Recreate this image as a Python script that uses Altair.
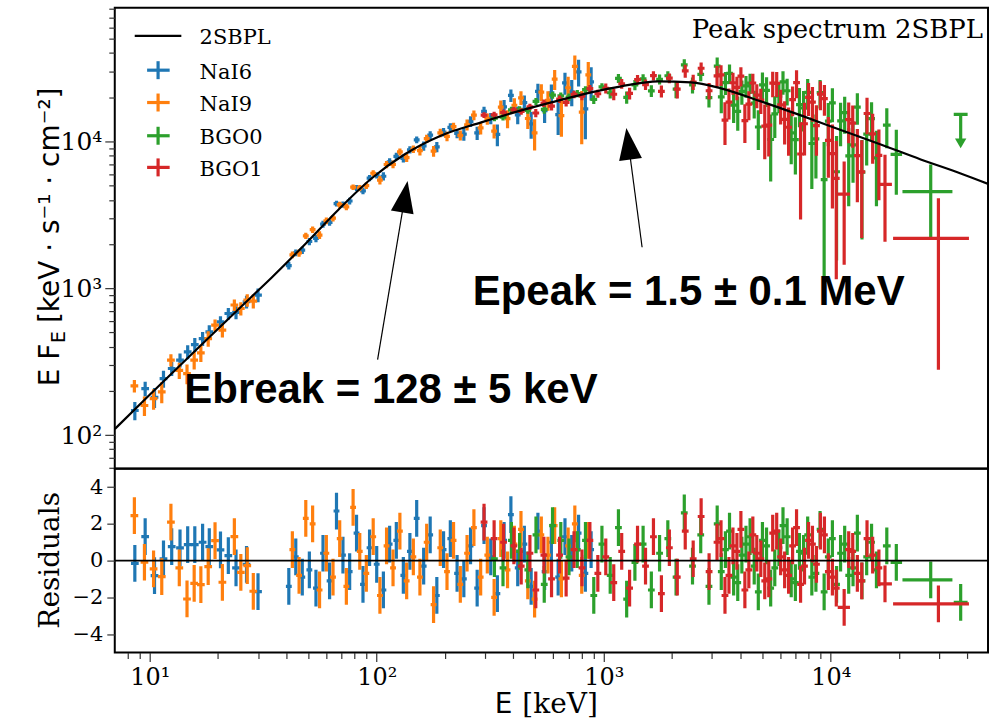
import json
import altair as alt
import pandas as pd

# ---------------- model curve (2SBPL) ----------------
MODEL_E = [7.02, 10, 16.9, 28.1, 34.4, 48.1, 67.8, 94.8, 132.4, 192.6, 288.8, 403.5, 587, 880,
           1193, 1735, 2424, 3285, 4927, 7386, 10320, 16610, 24910, 37360, 50120]
MODEL_F = [110, 188, 412, 875, 1180, 1980, 3430, 5590, 8150, 10990, 13490, 15780, 18460, 21600,
           23740, 25680, 25270, 23000, 18750, 15050, 12460, 9540, 7540, 6050, 5090]

# ---------------- NaI6 ----------------
NAI6_LOW_E = [8.6, 9.55, 10.5, 11.5, 12.5, 13.6, 14.7, 15.8, 17.1, 18.3, 20.5, 22.2, 24.0, 26.7, 30.0]
NAI6_LOW_F = [147, 207, 181, 242, 284, 324, 369, 413, 454, 504, 590, 673, 684, 809, 899]
NAI6_LOW_DF = [21, 24, 28, 32, 31, 36, 40, 45, 50, 56, 55, 62, 69, 81, 96]
NAI6_LOW_R = [-0.15, 1.31, -0.82, 0.09, 0.76, 0.69, 0.87, 0.87, 1.0, 0.76, 0.58, 0.27, -0.4, -0.2, -1.69]

NAI6_HI_E = [41, 44, 47, 50.5, 54, 58, 62, 66.5, 71, 76, 81.5, 87, 93, 100, 107, 114, 122, 131, 140,
             150, 161, 172, 184, 197, 211, 226, 242, 259, 277, 297, 318, 340, 364, 390, 418, 447, 479,
             513, 549, 588, 630, 675, 723, 775, 830, 880]
NAI6_HI_F = [1428, 1744, 1816, 2081, 2186, 2730, 2809, 3773, 3723, 3929, 4821, 4612, 5627, 5879, 5794,
             7256, 7922, 7667, 8777, 10245, 9325, 11025, 9185, 11583, 12476, 11333, 11225, 13686, 11426,
             16005, 14367, 11155, 17186, 20579, 15182, 18397, 13155, 21912, 16224, 21425, 15216, 25063,
             21775, 29813, 16682, 25488]
NAI6_HI_DF = [85, 95, 105, 118, 131, 147, 149, 166, 183, 203, 224, 247, 272, 297, 385, 413, 446, 483,
              511, 540, 667, 703, 742, 778, 806, 834, 1110, 1149, 1189, 1230, 1270, 1893, 1955, 2019,
              2082, 2141, 2712, 2791, 2872, 2955, 4174, 4288, 4403, 6168, 6335, 6480]
NAI6_HI_R = [-1.4, 0.2, -0.9, -0.5, -1.5, 0.4, -1.1, 2.7, 0.3, -0.6, 1.5, -1.3, 0.7, -0.2, -1.6, 0.9,
             1.1, -0.8, 0.5, 2.3, -0.3, 1.4, -1.9, 0.6, 1.2, -0.7, -1.0, 0.8, -1.5, 1.9, 0.2, -1.8, 1.1,
             2.5, -0.4, 0.9, -1.4, 1.6, -0.6, 1.0, -0.9, 1.3, 0.4, 1.5, -0.7, 0.6]

# ---------------- NaI9 ----------------
NAI9_LOW_E = [8.56, 9.48, 10.4, 11.3, 12.4, 13.5, 14.6, 15.7, 16.8, 18.1, 19.4, 20.9, 23.6, 25.2, 26.9, 28.6]
NAI9_LOW_F = [216, 159, 177, 197, 324, 276, 262, 324, 363, 454, 561, 519, 769, 728, 830, 817]
NAI9_LOW_DF = [21, 24, 28, 32, 31, 35, 40, 44, 49, 55, 51, 57, 68, 75, 82, 90]
NAI9_LOW_R = [2.45, -0.09, -0.45, -0.87, 2.09, -0.4, -2.09, -1.24, -1.31, -0.33, 1.09, -1.18, 1.31,
              -0.64, -0.27, -1.67]

NAI9_HI_E = [42.5, 45.5, 48.7, 52.2, 56, 60, 64.2, 68.7, 73.5, 78.7, 84.2, 90, 96.5, 103.3, 110.5, 118,
             126.5, 135.5, 145, 155, 166, 178, 190.5, 204, 218, 233.5, 250, 268, 287, 307, 329, 352,
             377, 404, 432, 463, 496, 531, 568, 608, 651, 697, 746, 800, 855]
NAI9_HI_F = [1689, 1738, 2276, 2505, 2304, 2882, 3002, 3707, 3588, 4880, 4821, 5002, 6074, 5457, 6965,
             6985, 8485, 7754, 8868, 8659, 10444, 8585, 11426, 10839, 12602, 11012, 12992, 15094, 12358,
             14258, 11759, 17110, 14291, 17637, 19824, 14324, 11422, 21664, 19079, 26535, 14989, 23206,
             32416, 15821, 28409]
NAI9_HI_DF = [90, 100, 111, 124, 139, 155, 157, 175, 193, 213, 235, 259, 285, 370, 399, 429, 465, 498,
              526, 647, 683, 722, 762, 792, 819, 848, 1129, 1169, 1210, 1249, 1291, 1924, 1987, 2053,
              2111, 2173, 2752, 2832, 2913, 4117, 4228, 4341, 6078, 6245, 6408]
NAI9_HI_R = [0.6, -0.8, 2.3, 2.0, -1.6, 0.4, -0.9, 1.2, -1.4, 2.9, 0.5, -0.7, 1.3, -1.9, 0.8, -0.4, 1.6,
             -1.1, 0.2, -0.9, 1.0, -2.4, 0.7, -0.6, 1.1, -1.3, 0.4, 1.8, -0.9, 0.3, -2.0, 1.2, -0.5, 0.9,
             1.7, -1.1, -2.1, 1.4, 0.3, 1.9, -1.0, 0.8, 2.0, -0.8, 1.1]

# ---------------- BGO0 ----------------
BGO0_E = [330, 360, 392, 426, 463, 503, 547, 595, 647, 703, 765, 831, 904, 982, 1068, 1161, 1262, 1372,
          1491, 1621, 1762, 1916, 2083, 2264, 2461, 2675, 2908, 3161, 3436, 3735, 4060, 4413, 4797,
          5215, 5669, 6162, 6698, 7281, 7915, 8604, 9353, 10170, 11050, 12000, 13100, 14400, 15900,
          3295, 3582, 3894, 4233, 4602, 5003, 5438, 5912, 6426, 6986, 7594, 8255, 8974, 9756, 10610,
          11520, 12540, 13730, 15130]
BGO0_F = [14434, 14660, 16425, 16547, 16296, 18756, 16522, 20671, 20436, 20036, 21196, 22520, 19297,
          23554, 21467, 26927, 19986, 24251, 26669, 22078, 26481, 28010, 22706, 33264, 24246, 28629,
          19870, 32582, 25184, 17678, 21912, 24973, 12539, 22252, 15428, 25439, 11426, 17822, 21566,
          10425, 5500, 18296, 13815, 7968, 17116, 11206, 7725,
          20134, 29053, 16044, 23883, 18236, 24316, 10307, 20320, 22138, 10299, 16895, 9686, 21517,
          13771, 6214, 15728, 9472, 6181, 14285]
BGO0_DF = [718, 748, 778, 807, 836, 1038, 1075, 1113, 1150, 1188, 1228, 1268, 1307, 1341, 1835, 1883,
           1922, 1956, 1990, 2026, 2053, 2045, 3055, 3042, 3018, 2941, 2866, 4655, 4497, 4312, 4134,
           3964, 3800, 5090, 4865, 4649, 4444, 5309, 5066, 4833, 4400, 4775, 4557, 4351, 4143, 4342, 4107,
           4576, 4402, 4222, 4048, 3880, 5205, 4976, 4757, 4544, 4343, 5187, 4949, 4722, 4505, 4666,
           4454, 4245, 4036, 4225]
BGO0_R = [0.1, -0.4, 1.1, 0.5, -0.5, 1.4, -1.3, 1.9, 1.1, 0.2, 0.6, 1.1, -1.9, 0.9, -0.8, 1.8, -2.1,
          -0.1, 0.9, -1.6, 0.4, 1.2, -0.9, 2.6, -0.3, 1.4, -1.4, 2.0, 0.6, -0.9, 0.3, 1.3, -1.7, 0.8,
          -0.4, 1.9, -1.0, 0.5, 1.4, -0.7, -1.7, 1.2, 0.4, -0.8, 1.5, 0.2, -0.5,
          -0.6, 1.6, -1.2, 0.9, -0.3, 1.1, -1.5, 0.7, 1.3, -1.2, 0.4, -0.9, 1.7, 0.2, -1.3, 0.9, -0.4,
          -1.1, 1.0]
BGO0_WIDE_E = [17660, 19450, 27570]
BGO0_WIDE_LO = [16980, 18350, 20700]
BGO0_WIDE_HI = [18370, 20620, 34360]
BGO0_WIDE_F = [12900, 8175, 4556]
BGO0_WIDE_DF = [3900, 3845, 2400]
BGO0_WIDE_R = [0.8, -0.1, -1.05]
BGO0_UL_E = [37360]
BGO0_UL_LO = [34820]
BGO0_UL_HI = [40090]
BGO0_UL_F = [15290]
BGO0_UL_STEM = [10400]
BGO0_UL_HEAD = [9700]
BGO0_UL_R = [-2.27]

# ---------------- BGO1 ----------------
BGO1_E = [297, 329, 362, 402, 433, 473, 502, 545, 589, 639, 683, 740, 802, 869, 942, 1021, 1107, 1200,
          1300, 1409, 1528, 1656, 1795, 1946, 2109, 2286, 2478, 2686, 2912, 3156, 3421, 3709, 4020,
          4358, 4724, 5121, 5551, 6017, 6522, 7070, 7664, 8308, 9006, 9762, 10580, 12500, 13700, 15300,
          3286, 3562, 3862, 4186, 4538, 4920, 5333, 5781, 6266, 6792, 7364, 7983, 8652, 9380, 10170,
          12000, 13100, 14450, 16300]
BGO1_F = [15103, 15200, 15748, 16383, 16009, 17201, 15628, 18215, 17381, 19422, 18461, 20922, 20336,
          22914, 21133, 22982, 20966, 24721, 21271, 26353, 24407, 28078, 21948, 26969, 22692, 30209,
          25400, 31529, 22153, 27942, 13971, 25097, 27837, 17953, 20684, 12706, 24954, 17764, 12494,
          25118, 13192, 18522, 20994, 10158, 5600, 13316, 6200, 11250,
          28396, 18547, 23320, 13845, 25011, 19125, 12931, 24891, 14156, 19278, 8213, 19958, 12806,
          19594, 8271, 14061, 8001, 15506, 8029]
BGO1_DF = [683, 717, 750, 788, 813, 843, 1037, 1074, 1109, 1145, 1175, 1212, 1250, 1290, 1324, 1810,
           1855, 1902, 1934, 1967, 2001, 2035, 2051, 2043, 3053, 3041, 3012, 2937, 2865, 4657, 4507,
           4327, 4155, 3990, 3830, 5141, 4920, 4710, 4508, 5394, 5159, 4930, 4710, 4500, 4450, 4252,
           4000, 4196,
           4580, 4416, 4240, 4072, 3908, 3750, 5029, 4813, 4609, 4410, 5275, 5044, 4820, 4603, 4777,
           4351, 4142, 4330, 4053]
BGO1_R = [2.1, 1.2, 1.0, 0.8, -0.3, 0.4, -1.6, 0.3, -1.0, 0.3, -0.95, 0.6, -0.4, 1.1, -0.7, 0.2, -1.2,
          0.5, -1.5, 0.9, -0.3, 1.3, -1.8, 0.7, -0.9, 1.6, 0.1, 2.4, -0.6, 1.0, -1.9, 0.8, 1.7, -0.5,
          0.4, -1.1, 1.5, 0.2, -0.8, 1.8, -0.3, 0.9, 1.6, -0.6, -1.5, 0.5, -1.1, 0.3,
          1.2, -0.8, 0.5, -1.6, 1.4, 0.1, -1.0, 1.6, -0.5, 0.8, -1.3, 1.1, -0.2, 1.4, -0.9, 0.6, -0.7,
          1.2, -0.4]
BGO1_WIDE_E = [11460, 17340, 29810]
BGO1_WIDE_LO = [10733, 16400, 18820]
BGO1_WIDE_HI = [12155, 18600, 40630]
BGO1_WIDE_F = [4376, 5094, 2188]
BGO1_WIDE_DF = [2930, 3020, 1910]
BGO1_WIDE_R = [-2.55, -1.27, -2.36]

# channel half-width factors
W_NAI_LOW = 1.04
W_NAI_HI = 1.03
W_BGO = 1.035

# ---------------- axes ticks ----------------
X_TICKS = [7, 8, 9, 10, 20, 30, 40, 50, 60, 70, 80, 90, 100, 200, 300, 400, 500, 600, 700, 800, 900,
           1000, 2000, 3000, 4000, 5000, 6000, 7000, 8000, 9000, 10000, 20000, 30000, 40000]
X_MAJOR = [10, 100, 1000, 10000]
X_LABELS = ["10¹", "10²", "10³", "10⁴"]
Y_TICKS = [60, 70, 80, 90, 100, 200, 300, 400, 500, 600, 700, 800, 900, 1000, 2000, 3000, 4000, 5000,
           6000, 7000, 8000, 9000, 10000, 20000, 30000, 40000, 50000, 60000, 70000, 80000]
Y_MAJOR = [100, 1000, 10000]
Y_LABELS = ["10²", "10³", "10⁴"]
R_TICKS = [-4, -2, 0, 2, 4]

# ---------------- style ----------------
C_NAI6 = "#1f77b4"
C_NAI9 = "#ff7f0e"
C_BGO0 = "#2ca02c"
C_BGO1 = "#d62728"
SW = 3.2
W, H_TOP, H_BOT = 875, 461.6, 184
SERIF = "DejaVu Serif"
SANS = "DejaVu Sans"

XS = alt.Scale(type="log", domain=[7.016, 49300], nice=False)
YS = alt.Scale(type="log", domain=[59.3, 81450], nice=False)
RS = alt.Scale(domain=[-5, 5], nice=False, zero=False)


def rows(E, F, DF, R, w=None, lo=None, hi=None):
    out = []
    for i in range(len(E)):
        elo = lo[i] if lo is not None else E[i] / w
        ehi = hi[i] if hi is not None else E[i] * w
        out.append(dict(E=E[i], Elo=elo, Ehi=ehi, F=F[i], Flo=max(F[i] - DF[i], 1.0),
                        Fhi=F[i] + DF[i], R=R[i], Rlo=R[i] - 1, Rhi=R[i] + 1))
    return out


def sort_e(rs):
    return sorted(rs, key=lambda r: r["E"])


df_nai6 = pd.DataFrame(rows(NAI6_LOW_E, NAI6_LOW_F, NAI6_LOW_DF, NAI6_LOW_R, W_NAI_LOW)
                       + rows(NAI6_HI_E, NAI6_HI_F, NAI6_HI_DF, NAI6_HI_R, W_NAI_HI))
df_nai9 = pd.DataFrame(rows(NAI9_LOW_E, NAI9_LOW_F, NAI9_LOW_DF, NAI9_LOW_R, W_NAI_LOW)
                       + rows(NAI9_HI_E, NAI9_HI_F, NAI9_HI_DF, NAI9_HI_R, W_NAI_HI))
df_bgo0 = pd.DataFrame(sort_e(rows(BGO0_E, BGO0_F, BGO0_DF, BGO0_R, W_BGO))
                       + rows(BGO0_WIDE_E, BGO0_WIDE_F, BGO0_WIDE_DF, BGO0_WIDE_R,
                              lo=BGO0_WIDE_LO, hi=BGO0_WIDE_HI))
df_bgo1 = pd.DataFrame(sort_e(rows(BGO1_E, BGO1_F, BGO1_DF, BGO1_R, W_BGO))
                       + rows(BGO1_WIDE_E, BGO1_WIDE_F, BGO1_WIDE_DF, BGO1_WIDE_R,
                              lo=BGO1_WIDE_LO, hi=BGO1_WIDE_HI))
df_ul = pd.DataFrame(dict(E=BGO0_UL_E, Elo=BGO0_UL_LO, Ehi=BGO0_UL_HI, F=BGO0_UL_F,
                          S=BGO0_UL_STEM, A=BGO0_UL_HEAD, R=BGO0_UL_R,
                          Rlo=[r - 1 for r in BGO0_UL_R], Rhi=[r + 1 for r in BGO0_UL_R]))
df_model = pd.DataFrame(dict(E=MODEL_E, F=MODEL_F))
DUMMY = pd.DataFrame({"k": [0]})


def is_major(major):
    return f"indexof({json.dumps(major)}, datum.value) >= 0"


def lab_expr(major, labels):
    m = json.dumps(major)
    l = json.dumps(labels, ensure_ascii=False)
    return f"indexof({m}, datum.value) >= 0 ? {l}[indexof({m}, datum.value)] : ''"


def cond(major, big, small):
    return {"condition": {"test": is_major(major), "value": big}, "value": small}


Y_AXIS = alt.Axis(values=Y_TICKS, labelExpr=lab_expr(Y_MAJOR, Y_LABELS),
                  tickSize=cond(Y_MAJOR, 10, 6), tickColor="#333", tickWidth=1.2,
                  labelFont=SERIF, labelFontSize=cond(Y_MAJOR, 25, 0), labelColor="black",
                  labelPadding=3, domain=False, grid=False, title=None, labelOverlap=False)
X_AXIS = alt.Axis(values=X_TICKS, labelExpr=lab_expr(X_MAJOR, X_LABELS),
                  tickSize=cond(X_MAJOR, 9, 6), tickColor="#333", tickWidth=1.2,
                  labelFont=SERIF, labelFontSize=cond(X_MAJOR, 24, 0), labelColor="black",
                  labelPadding=4, domain=False, grid=False, title=None, labelOverlap=False)
R_AXIS = alt.Axis(values=R_TICKS, tickSize=8, tickColor="#333", tickWidth=1.2,
                  labelFont=SERIF, labelFontSize=21, labelColor="black", labelPadding=4,
                  domain=False, grid=False, title=None, labelOverlap=False)


def tx(field):
    return alt.X(field, scale=XS, axis=None)


def ty(field):
    return alt.Y(field, scale=YS, axis=Y_AXIS)


def bx(field):
    return alt.X(field, scale=XS, axis=X_AXIS)


def by(field):
    return alt.Y(field, scale=RS, axis=R_AXIS)


def top_err(df, color):
    v = alt.Chart(df).mark_rule(color=color, strokeWidth=SW, clip=True).encode(
        x=tx("E:Q"), y=ty("Flo:Q"), y2="Fhi:Q")
    h = alt.Chart(df).mark_rule(color=color, strokeWidth=SW, clip=True).encode(
        x=tx("Elo:Q"), x2="Ehi:Q", y=ty("F:Q"))
    return [v, h]


def res_err(df, color):
    v = alt.Chart(df).mark_rule(color=color, strokeWidth=SW, clip=True).encode(
        x=bx("E:Q"), y=by("Rlo:Q"), y2="Rhi:Q")
    h = alt.Chart(df).mark_rule(color=color, strokeWidth=SW, clip=True).encode(
        x=bx("Elo:Q"), x2="Ehi:Q", y=by("R:Q"))
    return [v, h]


def vtext(txt, x, y, font, size, **kw):
    return alt.Chart(DUMMY).mark_text(text=txt, font=font, fontSize=size, color="black", **kw).encode(
        x=alt.value(x), y=alt.value(y))


# ---------------- top panel ----------------
top_layers = []
top_layers += top_err(df_nai6, C_NAI6)
top_layers += top_err(df_nai9, C_NAI9)
top_layers += top_err(df_bgo0, C_BGO0)
# upper limit (BGO0)
top_layers.append(alt.Chart(df_ul).mark_rule(color=C_BGO0, strokeWidth=SW, clip=True).encode(
    x=tx("Elo:Q"), x2="Ehi:Q", y=ty("F:Q")))
top_layers.append(alt.Chart(df_ul).mark_rule(color=C_BGO0, strokeWidth=SW, clip=True).encode(
    x=tx("E:Q"), y=ty("F:Q"), y2="S:Q"))
top_layers.append(alt.Chart(df_ul).mark_point(shape="triangle-down", filled=True, color=C_BGO0,
                                              size=130, opacity=1).encode(x=tx("E:Q"), y=ty("A:Q")))
top_layers += top_err(df_bgo1, C_BGO1)
top_layers.append(alt.Chart(df_model).mark_line(color="black", strokeWidth=2.2, clip=True,
                                                interpolate="monotone").encode(x=tx("E:Q"), y=ty("F:Q")))

# annotation arrows (data coordinates)
ARROW_TAIL_E = [100.9, 1476]
ARROW_TAIL_F = [326.6, 1903]
ARROW_HEAD_E = [133.1, 1285]
ARROW_HEAD_F = [4208, 9647]
ARROW_ANGLE = [9.6, 352.5]
TRI = "M0,-1L0.72,1L-0.72,1Z"
df_arrow = pd.DataFrame(dict(E1=ARROW_TAIL_E, F1=ARROW_TAIL_F, E2=ARROW_HEAD_E, F2=ARROW_HEAD_F))
top_layers.append(alt.Chart(df_arrow).mark_rule(color="black", strokeWidth=1.2).encode(
    x=tx("E1:Q"), y=ty("F1:Q"), x2="E2:Q", y2="F2:Q"))
for i in range(2):
    top_layers.append(alt.Chart(pd.DataFrame(dict(E=[ARROW_HEAD_E[i]], F=[ARROW_HEAD_F[i]]))).mark_point(
        shape=TRI, filled=True, color="black", size=1024, opacity=1, angle=ARROW_ANGLE[i]).encode(
        x=tx("E:Q"), y=ty("F:Q")))

ANNOT_TEXT = ["Ebreak = 128 ± 5 keV", "Epeak = 1.5 ± 0.1 MeV"]
ANNOT_E = [14.21, 265]
ANNOT_F = [164.8, 764]
for i in range(2):
    top_layers.append(alt.Chart(pd.DataFrame(dict(E=[ANNOT_E[i]], F=[ANNOT_F[i]]))).mark_text(
        text=ANNOT_TEXT[i], font="Liberation Sans", fontWeight="bold", fontSize=42, color="black",
        align="left", baseline="alphabetic").encode(x=tx("E:Q"), y=ty("F:Q")))

top_layers.append(vtext("Peak spectrum 2SBPL", 870, 30.6, SERIF, 26, align="right", baseline="alphabetic"))

# legend
LEG_LABELS = ["2SBPL", "NaI6", "NaI9", "BGO0", "BGO1"]
LEG_COLORS = ["black", C_NAI6, C_NAI9, C_BGO0, C_BGO1]
LEG_Y = [28.3, 62.6, 95.0, 128.3, 160.0]
top_layers.append(alt.Chart(DUMMY).mark_rule(color="black", strokeWidth=2.2).encode(
    x=alt.value(20), x2=alt.value(66.7), y=alt.value(LEG_Y[0])))
for i in range(1, 5):
    cy = LEG_Y[i]
    top_layers.append(alt.Chart(DUMMY).mark_rule(color=LEG_COLORS[i], strokeWidth=SW).encode(
        x=alt.value(32.4), x2=alt.value(55), y=alt.value(cy)))
    top_layers.append(alt.Chart(DUMMY).mark_rule(color=LEG_COLORS[i], strokeWidth=SW).encode(
        x=alt.value(43.4), y=alt.value(cy - 9), y2=alt.value(cy + 9)))
for i in range(5):
    top_layers.append(vtext(LEG_LABELS[i], 85, LEG_Y[i] + 8.5, SERIF, 21, align="left",
                            baseline="alphabetic"))

# y-axis title with subscript
top_layers.append(vtext("E F", -56, 379.3, SANS, 28, angle=270, align="left", baseline="alphabetic"))
top_layers.append(vtext("E", -50, 336, SANS, 19, angle=270, align="left", baseline="alphabetic"))
top_layers.append(vtext("[keV · s⁻¹ · cm⁻²]", -56, 316, SANS, 28, angle=270, align="left",
                        baseline="alphabetic"))

top = alt.layer(*top_layers).properties(width=W, height=H_TOP)

# ---------------- residual panel ----------------
bot_layers = []
bot_layers += res_err(df_nai6, C_NAI6)
bot_layers += res_err(df_nai9, C_NAI9)
bot_layers += res_err(pd.concat([df_bgo0, df_ul[["E", "Elo", "Ehi", "R", "Rlo", "Rhi"]]]), C_BGO0)
bot_layers += res_err(df_bgo1, C_BGO1)
bot_layers.append(alt.Chart(DUMMY).mark_rule(color="black", strokeWidth=1.8).encode(
    y=alt.Y(datum=0, scale=RS, axis=R_AXIS)))
bot_layers.append(vtext("Residuals", -56, 91.7, SERIF, 28, angle=270, align="center",
                        baseline="alphabetic"))
bot_layers.append(vtext("E", 380.7, 245, SANS, 28, align="left", baseline="alphabetic"))
bot_layers.append(vtext("[keV]", 408.4, 245, SERIF, 28, align="left", baseline="alphabetic"))

bottom = alt.layer(*bot_layers).properties(width=W, height=H_BOT)

chart = alt.vconcat(top, bottom, spacing=0, bounds="flush").properties(
    padding={"left": 35, "top": 6, "right": 4, "bottom": 0}, background="white"
).configure_view(stroke="black", strokeWidth=2)

chart.save("out.html", embed_options={"renderer": "svg", "actions": False})
